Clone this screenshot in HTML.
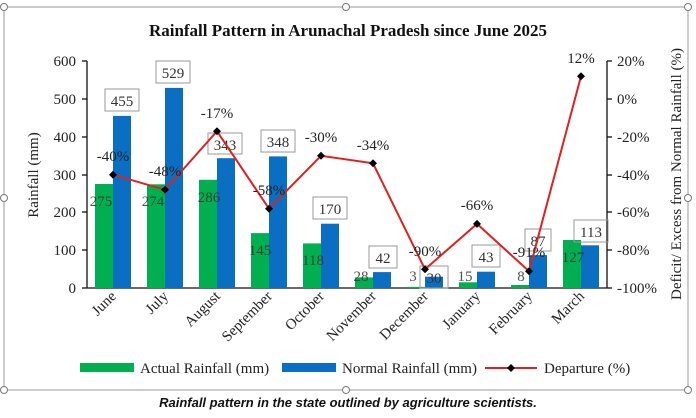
<!DOCTYPE html><html><head><meta charset="utf-8"><style>
body{margin:0;background:#fff;}
svg{display:block;font-family:"Liberation Serif",serif;}
</style></head><body>
<svg width="696" height="418" viewBox="0 0 696 418">
<rect x="4" y="7" width="684" height="383" fill="none" stroke="#999" stroke-width="1"/>
<g fill="#fff" stroke="#777" stroke-width="1">
<circle cx="4" cy="7" r="3.5"/><circle cx="346" cy="7" r="3.5"/><circle cx="688" cy="7" r="3.5"/>
<circle cx="4" cy="198" r="3.5"/><circle cx="688" cy="198" r="3.5"/>
<circle cx="4" cy="390" r="3.5"/><circle cx="346" cy="390" r="3.5"/><circle cx="688" cy="390" r="3.5"/>
</g>
<text x="348" y="36" text-anchor="middle" font-size="17" font-weight="bold" fill="#111">Rainfall Pattern in Arunachal Pradesh since June 2025</text>
<g stroke="#111" stroke-width="1.3">
<line x1="87" y1="61" x2="87" y2="288"/><line x1="87" y1="288" x2="607" y2="288"/><line x1="607" y1="61" x2="607" y2="288"/>
<line x1="82" y1="61" x2="87" y2="61"/><line x1="82" y1="99" x2="87" y2="99"/><line x1="82" y1="137" x2="87" y2="137"/><line x1="82" y1="175" x2="87" y2="175"/><line x1="82" y1="212" x2="87" y2="212"/><line x1="82" y1="250" x2="87" y2="250"/><line x1="82" y1="288" x2="87" y2="288"/>
<line x1="607" y1="61" x2="612" y2="61"/><line x1="607" y1="99" x2="612" y2="99"/><line x1="607" y1="137" x2="612" y2="137"/><line x1="607" y1="175" x2="612" y2="175"/><line x1="607" y1="212" x2="612" y2="212"/><line x1="607" y1="250" x2="612" y2="250"/><line x1="607" y1="288" x2="612" y2="288"/>
</g>
<g font-size="15" fill="#222" text-anchor="end">
<text x="76" y="66">600</text><text x="76" y="104">500</text><text x="76" y="142">400</text><text x="76" y="180">300</text><text x="76" y="217">200</text><text x="76" y="255">100</text><text x="76" y="293">0</text>
</g>
<g font-size="15" fill="#222">
<text x="617" y="66">20%</text><text x="617" y="104">0%</text><text x="617" y="142">-20%</text><text x="617" y="180">-40%</text><text x="617" y="217">-60%</text><text x="617" y="255">-80%</text><text x="617" y="293">-100%</text>
</g>
<text transform="translate(38,175) rotate(-90)" text-anchor="middle" font-size="15" fill="#222">Rainfall (mm)</text>
<text transform="translate(681,174) rotate(-90)" text-anchor="middle" font-size="15" fill="#222">Deficit/ Excess from Normal Rainfall (%)</text>
<g fill="#00b050">
<rect x="95" y="184" width="18" height="104"/><rect x="147" y="184.3" width="18" height="103.7"/><rect x="199" y="179.8" width="18" height="108.2"/><rect x="251" y="233.1" width="18" height="54.9"/><rect x="303" y="243.4" width="18" height="44.6"/><rect x="355" y="277.4" width="18" height="10.6"/><rect x="407" y="286.9" width="18" height="1.1"/><rect x="459" y="282.3" width="18" height="5.7"/><rect x="511" y="285" width="18" height="3"/><rect x="563" y="240" width="18" height="48"/>
</g>
<g fill="#0a6fc2">
<rect x="113" y="115.9" width="18" height="172.1"/><rect x="165" y="87.9" width="18" height="200.1"/><rect x="217" y="158.2" width="18" height="129.8"/><rect x="269" y="156.4" width="18" height="131.6"/><rect x="321" y="223.7" width="18" height="64.3"/><rect x="373" y="272.1" width="18" height="15.9"/><rect x="425" y="276.7" width="18" height="11.3"/><rect x="477" y="271.7" width="18" height="16.3"/><rect x="529" y="255.1" width="18" height="32.9"/><rect x="581" y="245.3" width="18" height="42.7"/>
</g>
<g font-size="15" fill="#333" text-anchor="middle" opacity="0.85">
<text x="101" y="206">275</text><text x="153" y="206">274</text><text x="209" y="202">286</text><text x="260" y="255">145</text><text x="313" y="265">118</text><text x="361" y="281">28</text><text x="413" y="281">3</text><text x="465" y="281">15</text><text x="521" y="281">8</text><text x="573" y="262">127</text>
</g>
<g fill="none" stroke="#999" stroke-width="1">
<rect x="105" y="89" width="34" height="22"/><rect x="156" y="61" width="34" height="22"/><rect x="208" y="133" width="34" height="21"/><rect x="261" y="130" width="34" height="22"/><rect x="313" y="197" width="34" height="22"/><rect x="369" y="246" width="28" height="22"/><rect x="420" y="266" width="28" height="22"/><rect x="472" y="245" width="28" height="22"/><rect x="525" y="229" width="26" height="22"/><rect x="574" y="220" width="34" height="22"/>
</g>
<g font-size="15" fill="#333" text-anchor="middle">
<text x="122" y="106">455</text><text x="173" y="78">529</text><text x="225" y="150">343</text><text x="278" y="147">348</text><text x="330" y="214">170</text><text x="383" y="263">42</text><text x="434" y="283">30</text><text x="486" y="262">43</text><text x="538" y="246">87</text><text x="591" y="237">113</text>
</g>
<polyline points="113,174.7 165,189.8 217,131.2 269,208.7 321,155.8 373,163.3 425,269.3 477,223.9 529,271.2 581,76.3" fill="none" stroke="#e02020" stroke-width="2"/>
<g fill="#000">
<path d="M113,170.7l4,4l-4,4l-4,-4z"/><path d="M165,185.8l4,4l-4,4l-4,-4z"/><path d="M217,127.2l4,4l-4,4l-4,-4z"/><path d="M269,204.7l4,4l-4,4l-4,-4z"/><path d="M321,151.8l4,4l-4,4l-4,-4z"/><path d="M373,159.3l4,4l-4,4l-4,-4z"/><path d="M425,265.3l4,4l-4,4l-4,-4z"/><path d="M477,219.9l4,4l-4,4l-4,-4z"/><path d="M529,267.2l4,4l-4,4l-4,-4z"/><path d="M581,72.3l4,4l-4,4l-4,-4z"/>
</g>
<g font-size="15" fill="#222" text-anchor="middle">
<text x="113" y="161">-40%</text><text x="165" y="176">-48%</text><text x="217" y="118">-17%</text><text x="269" y="195">-58%</text><text x="321" y="142">-30%</text><text x="373" y="150">-34%</text><text x="425" y="256">-90%</text><text x="477" y="210">-66%</text><text x="529" y="257">-91%</text><text x="581" y="63">12%</text>
</g>
<g font-size="15" fill="#222" text-anchor="end">
<text transform="translate(117,297) rotate(-45)">June</text>
<text transform="translate(169,297) rotate(-45)">July</text>
<text transform="translate(221,297) rotate(-45)">August</text>
<text transform="translate(273,297) rotate(-45)">September</text>
<text transform="translate(325,297) rotate(-45)">October</text>
<text transform="translate(377,297) rotate(-45)">November</text>
<text transform="translate(429,297) rotate(-45)">December</text>
<text transform="translate(481,297) rotate(-45)">January</text>
<text transform="translate(533,297) rotate(-45)">February</text>
<text transform="translate(585,297) rotate(-45)">March</text>
</g>
<rect x="80" y="363" width="54" height="9" fill="#00b050"/>
<text x="140" y="373" font-size="15" fill="#222">Actual Rainfall (mm)</text>
<rect x="282" y="363" width="54" height="9" fill="#0a6fc2"/>
<text x="342" y="373" font-size="15" fill="#222">Normal Rainfall (mm)</text>
<line x1="485" y1="368" x2="537" y2="368" stroke="#e02020" stroke-width="2"/>
<path d="M511,364l4,4l-4,4l-4,-4z" fill="#000"/>
<text x="544" y="373" font-size="15" fill="#222">Departure (%)</text>
<text x="348" y="407" text-anchor="middle" font-family="Liberation Sans, sans-serif" font-size="13" font-style="italic" font-weight="bold" fill="#111">Rainfall pattern in the state outlined by agriculture scientists.</text>
</svg>
</body></html>
